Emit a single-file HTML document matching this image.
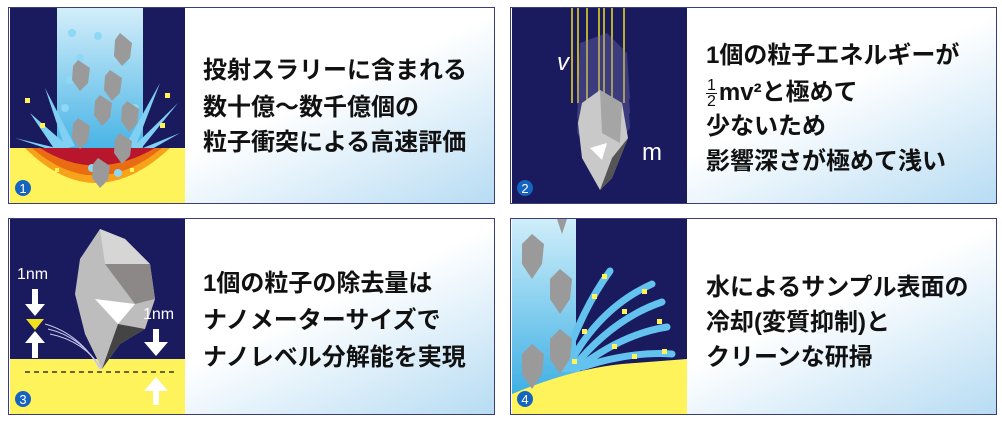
<!DOCTYPE html>
<html><head><meta charset="utf-8"><style>
body{margin:0;width:1002px;height:422px;background:#fff;position:relative;overflow:hidden;font-family:"Liberation Sans","Noto Sans CJK JP",sans-serif}
.p{position:absolute;width:485px;height:195px;border:1px solid #3a3d78;background:linear-gradient(155deg,#fff 55%,#b7dcf3 100%)}
.p svg{position:absolute;left:1px;top:0}
.t{position:absolute;font-weight:bold;font-size:24px;color:#111;white-space:nowrap;line-height:26px}
</style></head><body>

<div class="p" style="left:8px;top:7px">
<svg width="175" height="195" viewBox="0 0 175 195">
<defs><linearGradient id="c1" x1="0" y1="0" x2="0" y2="1"><stop offset="0" stop-color="#d3eefa"/><stop offset="1" stop-color="#3fb0e4"/></linearGradient></defs>
<rect width="175" height="195" fill="#1a1a5e"/>
<rect x="47" y="0" width="86" height="150" fill="url(#c1)"/>
<g fill="#7fd0f2"><polygon points="20,105 60,140 45,142"/><polygon points="35,80 65,138 55,140"/><polygon points="5,130 55,142 50,145"/><polygon points="150,75 125,140 115,138"/><polygon points="168,95 130,142 122,140"/><polygon points="170,125 135,145 128,142"/></g>
<rect x="0" y="140" width="175" height="55" fill="#fff35c"/>
<path d="M15,140 Q85,210 160,140 Z" fill="#f7a21b"/>
<path d="M22,140 Q85,195 152,140 Z" fill="#e96b12"/>
<path d="M30,140 Q85,175 145,140 Z" fill="#b8162c"/>
<g fill="#fff35c"><rect x="15" y="90" width="5" height="5"/><rect x="155" y="85" width="5" height="5"/><rect x="30" y="115" width="5" height="5"/><rect x="150" y="115" width="5" height="5"/><rect x="45" y="160" width="4" height="4"/><rect x="120" y="160" width="4" height="4"/><rect x="75" y="178" width="4" height="4"/><rect x="95" y="175" width="4" height="4"/></g>
<g fill="#8ed8f6"><circle cx="62" cy="25" r="4"/><circle cx="88" cy="28" r="4"/><circle cx="70" cy="50" r="4"/><circle cx="115" cy="55" r="4"/><circle cx="60" cy="72" r="4"/><circle cx="100" cy="70" r="4"/><circle cx="125" cy="100" r="4"/><circle cx="55" cy="100" r="4"/><circle cx="82" cy="160" r="4"/><circle cx="108" cy="165" r="4"/></g>
<g fill="#9a9a9a"><polygon points="110,25 122,35 120,50 112,58 104,48 105,32"/><polygon points="68,52 80,60 78,75 70,83 62,72 63,58"/><polygon points="100,62 112,70 110,85 102,93 94,82 95,68"/><polygon points="90,87 102,95 100,110 92,118 84,107 85,93"/><polygon points="117,93 129,101 127,116 119,124 111,113 112,99"/><polygon points="68,110 80,118 78,133 70,141 62,130 63,116"/><polygon points="110,125 122,133 120,148 112,156 104,145 105,131"/><polygon points="88,150 100,158 98,172 90,180 82,170 83,156"/></g>
<circle cx="13" cy="180" r="8" fill="#1565c0"/><text x="13" y="185" fill="#fff" font-size="13" text-anchor="middle" font-family="Liberation Sans">1</text>
</svg>
<div class="t" style="left:194px;top:50px">投射スラリーに含まれる</div>
<div class="t" style="left:194px;top:87px">数十億～数千億個の</div>
<div class="t" style="left:194px;top:122px">粒子衝突による高速評価</div>
</div>

<div class="p" style="left:510px;top:7px">
<svg width="175" height="195" viewBox="0 0 175 195">
<rect width="175" height="195" fill="#1a1a5e"/>
<g stroke="#f0e020" stroke-width="1.5"><line x1="60" y1="0" x2="60" y2="95"/><line x1="66" y1="0" x2="66" y2="95"/><line x1="75" y1="0" x2="75" y2="95"/><line x1="87" y1="0" x2="87" y2="95"/><line x1="92" y1="0" x2="92" y2="95"/><line x1="100" y1="0" x2="100" y2="95"/><line x1="112" y1="0" x2="112" y2="95"/></g>
<g fill="#7d78b8" opacity="0.35"><polygon points="68,35 95,25 115,45 118,90 90,130 65,95"/><polygon points="68,50 95,40 115,60 118,105 90,145 65,110"/><polygon points="68,65 95,55 115,75 118,120 90,160 65,125"/></g>
<polygon points="70,95 88,82 110,95 116,130 100,170 88,182 70,150 66,115" fill="#c9c9c9"/>
<polygon points="88,82 110,95 108,135 90,125" fill="#a5a5a5"/>
<polygon points="100,150 116,130 100,170 88,182" fill="#555"/>
<polygon points="78,140 95,135 90,152" fill="#fff"/>
<text x="45" y="62" fill="#fff" font-size="24" font-style="italic" font-family="Liberation Sans">v</text>
<text x="130" y="152" fill="#fff" font-size="24" font-family="Liberation Sans">m</text>
<circle cx="13" cy="180" r="8" fill="#1565c0"/><text x="13" y="185" fill="#fff" font-size="13" text-anchor="middle" font-family="Liberation Sans">2</text>
</svg>
<div class="t" style="left:195px;top:35px">1個の粒子エネルギーが</div>
<div class="t" style="left:195px;top:70px"><span style="display:inline-block;font-size:16px;line-height:15px;text-align:center;vertical-align:middle;margin-right:2px;font-weight:normal">1<br><span style="border-top:1.5px solid #111;display:block;padding:0 1px">2</span></span>mv²と極めて</div>
<div class="t" style="left:195px;top:106px">少ないため</div>
<div class="t" style="left:195px;top:141px">影響深さが極めて浅い</div>
</div>

<div class="p" style="left:8px;top:218px">
<svg width="175" height="195" viewBox="0 0 175 195">
<rect width="175" height="195" fill="#1a1a5e"/>
<rect x="0" y="140" width="175" height="55" fill="#fff35c"/>
<line x1="15" y1="153" x2="165" y2="153" stroke="#111" stroke-width="1.2" stroke-dasharray="5,4"/>
<polygon points="90,10 115,20 140,45 145,80 135,110 110,125 92,150 75,115 65,75 70,40" fill="#bdbdbd"/>
<polygon points="90,10 115,20 140,45 95,45" fill="#d6d6d6"/>
<polygon points="95,45 140,45 145,80 125,85" fill="#8c8888"/>
<polygon points="85,80 125,85 108,105" fill="#fff"/>
<polygon points="108,105 135,110 110,125 92,150" fill="#444"/>
<g fill="none" stroke="#c8c8ee" stroke-width="1"><path d="M90,150 Q70,115 35,105"/><path d="M91,150 Q72,118 38,110"/><path d="M92,150 Q74,122 40,115"/></g>
<text x="7" y="60" fill="#fff" font-size="16" font-family="Liberation Sans">1nm</text>
<rect x="22" y="70" width="6" height="16" fill="#fff"/><polygon points="15,85 35,85 25,97" fill="#fff"/>
<polygon points="16,100 34,100 25,111" fill="#f0e020"/>
<polygon points="15,124 35,124 25,112" fill="#fff"/><rect x="22" y="123" width="6" height="16" fill="#fff"/>
<text x="133" y="100" fill="#fff" font-size="16" font-family="Liberation Sans">1nm</text>
<rect x="143" y="110" width="6" height="14" fill="#fff"/><polygon points="134,123 158,123 146,137" fill="#fff"/>
<polygon points="134,172 158,172 146,158" fill="#fff"/><rect x="143" y="171" width="6" height="15" fill="#fff"/>
<circle cx="13" cy="180" r="8" fill="#1565c0"/><text x="13" y="185" fill="#fff" font-size="13" text-anchor="middle" font-family="Liberation Sans">3</text>
</svg>
<div class="t" style="left:194px;top:52px">1個の粒子の除去量は</div>
<div class="t" style="left:194px;top:89px">ナノメーターサイズで</div>
<div class="t" style="left:194px;top:126px">ナノレベル分解能を実現</div>
</div>

<div class="p" style="left:510px;top:218px">
<svg width="175" height="195" viewBox="0 0 175 195">
<defs><linearGradient id="c4" x1="0" y1="0" x2="0" y2="1"><stop offset="0" stop-color="#cfeefa"/><stop offset="1" stop-color="#3fb0e4"/></linearGradient></defs>
<rect width="175" height="195" fill="#1a1a5e"/>
<rect x="0" y="0" width="64" height="175" fill="url(#c4)"/>
<g fill="none" stroke="#63c3ee" stroke-width="7" stroke-linecap="round"><path d="M50,150 Q70,90 98,52"/><path d="M55,150 Q85,90 140,65"/><path d="M60,150 Q100,100 150,83"/><path d="M65,150 Q110,115 155,108"/><path d="M70,148 Q120,132 160,135"/></g>
<path d="M0,175 Q60,150 110,145 L175,140 L175,195 L0,195 Z" fill="#fff35c"/>
<g fill="#fff35c"><rect x="90" y="55" width="5" height="5"/><rect x="130" y="70" width="5" height="5"/><rect x="145" y="100" width="5" height="5"/><rect x="150" y="130" width="5" height="5"/><rect x="80" y="75" width="5" height="5"/><rect x="110" y="90" width="5" height="5"/><rect x="70" y="110" width="5" height="5"/><rect x="120" y="135" width="5" height="5"/><rect x="40" y="160" width="5" height="5"/><rect x="60" y="140" width="5" height="5"/><rect x="100" y="125" width="5" height="5"/></g>
<g fill="#9a9a9a"><polygon points="20,15 32,25 30,45 20,60 10,45 10,25"/><polygon points="48,50 60,60 58,80 48,95 38,80 38,60"/><polygon points="48,110 60,120 58,140 48,155 38,140 38,120"/><polygon points="20,125 32,135 30,155 20,170 10,155 10,135"/><polygon points="45,0 55,0 50,15"/></g>
<circle cx="13" cy="180" r="8" fill="#1565c0"/><text x="13" y="185" fill="#fff" font-size="13" text-anchor="middle" font-family="Liberation Sans">4</text>
</svg>
<div class="t" style="left:195px;top:56px">水によるサンプル表面の</div>
<div class="t" style="left:195px;top:91px">冷却(変質抑制)と</div>
<div class="t" style="left:195px;top:126px">クリーンな研掃</div>
</div>

</body></html>
